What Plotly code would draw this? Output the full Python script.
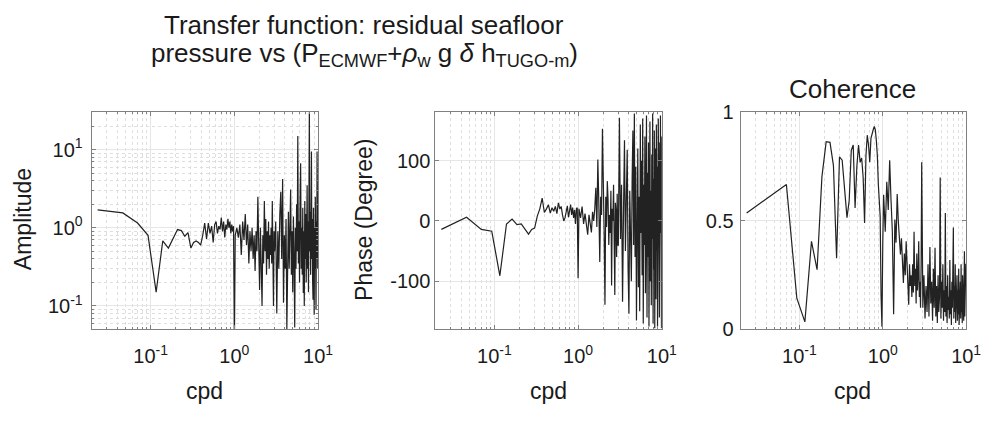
import numpy as np
import plotly.graph_objects as go

# ---------------- data ----------------
df = 1.0 / 43.0  # frequency resolution, cpd

# Amplitude (log scale)
amp_low = [1.7, 1.55, 1.15, 0.8, 0.15, 0.68, 0.55, 0.72, 0.95, 0.92,
           0.78, 0.87, 0.55, 0.65, 0.68, 0.65, 0.6, 0.8, 1.15, 0.72,
           1.15, 0.85, 1.05, 0.65, 1.1, 1.2, 0.85, 1.05, 0.95, 1.35,
           0.9, 1.2, 0.75, 1.1, 0.95, 1.3, 1.0, 1.2, 0.85, 1.1,
           0.9, 1.05, 0.03]
amp_mid = [0.8, 1.0, 0.75, 1.1, 0.45, 1.2, 0.7, 1.5, 0.6, 1.1,
           0.35, 0.9, 0.5, 1.0, 0.4, 0.8, 0.28, 0.9, 0.5, 2.5,
           0.6, 0.16, 1.0, 0.45, 0.1, 0.8, 0.35, 2.2, 0.5, 1.3,
           0.25, 0.9, 0.4, 1.2, 0.3, 0.8, 0.45, 1.0, 0.35, 2.2,
           0.6, 0.1, 0.9]
amp_high = [0.5, 1.2, 0.08, 0.9, 0.3, 1.5, 2.9, 0.4, 4.2, 0.11,
            0.8, 0.3, 1.3, 0.05, 0.7, 1.6, 0.3, 1.1, 3.1, 0.25,
            0.9, 0.15, 1.4, 0.4, 0.053, 1.0, 0.3, 2.0, 0.5, 15,
            0.35, 1.2, 0.2, 2.5, 6.7, 0.3, 1.0, 0.25, 1.8, 0.146,
            0.9, 0.1, 2.2, 0.4, 1.5, 0.2, 0.8, 3.5, 0.3, 1.2,
            0.15, 2.0, 35, 0.5, 1.6, 0.25, 3.0, 9.5, 0.4, 1.3,
            0.2, 0.12, 1.8, 0.5, 0.077, 1.0, 0.3, 2.5, 0.6, 0.09,
            1.2, 0.4, 9.5, 0.8, 0.3, 1.0]

# Phase (degree)
phase_low = [-14, 6, -14, -17, -91, -5, 3, -6, -5, -14,
             -22, -14, -12, 8, 20, 38, 14, 20, 27, 13,
             22, 16, 24, 12, 30, 20, 24, 10, 0, 5,
             19, 25, 6, 18, 27, 10, 22, 5, 18, -5,
             20, 22, -95]
phase_mid = [20, 5, 24, -5, 12, -2, -23, 10, -5, -19,
             15, 0, 20, 55, -10, 102, 30, -68, 40, 10,
             153, 77, -20, -139, 40, -10, 66, 35, -40, 10,
             -20, 50, -107, 20, 0, 60, -10, -123, 30, 15,
             -60, 45, -40]
phase_high = [-40, 171, -30, 60, -134, 20, 134, -50, 30, 118,
              -80, -154, 50, -20, -100, 70, 150, -40, 178, -60,
              90, -165, 10, 120, -110, 40, -150, 160, -20, 100,
              -90, 170, -170, 60, -40, 140, -120, 20, 175, -160,
              80, -60, 130, -175, 30, 165, -100, 50, -140, 110,
              -30, 178, -170, 70, -80, 150, -178, 20, 120, -130,
              160, -50, 90, -175, 40, 170, -120, 60, -160, 130,
              -20, 175, -150, 100, -178, 140]

# Coherence
coh_low = [0.537, 0.62, 0.668, 0.144, 0.035, 0.406, 0.275, 0.703, 0.865, 0.862,
           0.755, 0.328, 0.795, 0.78, 0.62, 0.515, 0.594, 0.825, 0.85, 0.56,
           0.75, 0.85, 0.77, 0.79, 0.70, 0.49, 0.80, 0.895, 0.85, 0.77,
           0.88, 0.91, 0.92, 0.935, 0.92, 0.87, 0.80, 0.67, 0.60, 0.52,
           0.157, 0.013, 0.40]
coh_mid = [0.62, 0.45, 0.68, 0.55, 0.78, 0.594, 0.45, 0.07, 0.507, 0.40,
           0.624, 0.50, 0.38, 0.345, 0.42, 0.30, 0.214, 0.35, 0.25, 0.406,
           0.30, 0.22, 0.114, 0.30, 0.20, 0.25, 0.15, 0.30, 0.17, 0.45,
           0.20, 0.28, 0.12, 0.35, 0.18, 0.25, 0.406, 0.15, 0.22, 0.10,
           0.30, 0.77, 0.15]
coh_high = [0.10, 0.25, 0.05, 0.20, 0.08, 0.30, 0.06, 0.38, 0.12, 0.22,
            0.04, 0.28, 0.10, 0.376, 0.06, 0.20, 0.03, 0.25, 0.08, 0.15,
            0.70, 0.05, 0.22, 0.10, 0.30, 0.04, 0.18, 0.08, 0.537, 0.06,
            0.20, 0.03, 0.25, 0.09, 0.15, 0.05, 0.32, 0.07, 0.18, 0.02,
            0.22, 0.10, 0.28, 0.47, 0.05, 0.20, 0.08, 0.30, 0.03, 0.15,
            0.10, 0.25, 0.04, 0.18, 0.07, 0.28, 0.02, 0.15, 0.09, 0.22,
            0.05, 0.30, 0.08, 0.18, 0.03, 0.25, 0.10, 0.15, 0.04, 0.20,
            0.36, 0.06, 0.22, 0.08, 0.30, 0.30]

x_tickvals = [0.1, 1, 10]
x_ticktext = ["10<sup>-1</sup>", "10<sup>0</sup>", "10<sup>1</sup>"]
amp_tickvals = [0.1, 1, 10]
amp_ticktext = ["10<sup>-1</sup>", "10<sup>0</sup>", "10<sup>1</sup>"]
phase_tickvals = [-100, 0, 100]
phase_ticktext = ["-100", "0", "100"]
coh_tickvals = [0, 0.5, 1]
coh_ticktext = ["0", "0.5", "1"]


def freq_grid(n_low, n_mid, n_high):
    k = list(range(1, n_low + 1))
    k += [44 + 2 * i for i in range(n_mid)]
    k += [130 + 4 * j for j in range(n_high)]
    return [kk * df for kk in k]


f_amp = freq_grid(len(amp_low), len(amp_mid), len(amp_high))
f_phase = freq_grid(len(phase_low), len(phase_mid), len(phase_high))
f_coh = freq_grid(len(coh_low), len(coh_mid), len(coh_high))

# ---------------- figure ----------------
W, H = 991, 421
FONT = "Liberation Sans, Arial, Helvetica, sans-serif"
TXT = "#1a1a1a"
LINE = "#222222"
GRID = "#e6e6e6"
MGRID = "#dedede"
FRAME = "#808080"
TICK_FS = 20
LABEL_FS = 23
TITLE_FS = 26


def px(x):
    return x / W


def py(y):
    return 1 - y / H


fig = go.Figure()
fig.add_trace(go.Scatter(x=f_amp, y=amp_low + amp_mid + amp_high, mode="lines",
                         line=dict(color=LINE, width=1.2), xaxis="x", yaxis="y"))
fig.add_trace(go.Scatter(x=f_phase, y=phase_low + phase_mid + phase_high, mode="lines",
                         line=dict(color=LINE, width=1.2), xaxis="x2", yaxis="y2"))
fig.add_trace(go.Scatter(x=f_coh, y=coh_low + coh_mid + coh_high, mode="lines",
                         line=dict(color=LINE, width=1.2), xaxis="x3", yaxis="y3"))

minor_log = [m * 10.0 ** e for e in (-2, -1, 0) for m in range(2, 10)]
minor_amp = [m * 10.0 ** e for e in (-2, -1, 0, 1) for m in range(2, 10)]

xr = [np.log10(0.0197), 1.0]
ytop, ybot = 107, 336
ydom = [py(ybot), py(ytop)]


def xaxis(dom, anchor):
    return dict(type="log", range=xr, domain=dom, anchor=anchor,
                tickmode="array", tickvals=x_tickvals, ticktext=x_ticktext,
                ticks="inside", ticklen=4, tickcolor=FRAME,
                showline=True, linecolor=FRAME, linewidth=1, mirror="ticks",
                showgrid=True, gridcolor=GRID, gridwidth=1, zeroline=False,
                minor=dict(tickmode="array", tickvals=minor_log, ticks="inside",
                           ticklen=2, tickcolor=FRAME, showgrid=True,
                           gridcolor=MGRID, griddash="dot", gridwidth=1),
                tickfont=dict(family=FONT, size=TICK_FS, color=TXT),
                ticklabelstandoff=9)


def yaxis(anchor, **kw):
    d = dict(domain=ydom, anchor=anchor, ticks="inside", ticklen=4, tickcolor=FRAME,
             showline=True, linecolor=FRAME, linewidth=1, mirror="ticks",
             showgrid=True, gridcolor=GRID, gridwidth=1, zeroline=False,
             tickfont=dict(family=FONT, size=TICK_FS, color=TXT))
    d.update(kw)
    return d


fig.update_layout(
    width=W, height=H, margin=dict(l=0, r=0, t=0, b=0),
    paper_bgcolor="white", plot_bgcolor="white", showlegend=False,
    xaxis=xaxis([px(93), px(323)], "y"),
    xaxis2=xaxis([px(442), px(672)], "y2"),
    xaxis3=xaxis([px(752), px(981)], "y3"),
    yaxis=yaxis("x", type="log", range=[np.log10(0.05), np.log10(30)],
                tickmode="array", tickvals=amp_tickvals, ticktext=amp_ticktext,
                ticklabelstandoff=4,
                minor=dict(tickmode="array", tickvals=minor_amp, ticks="inside",
                           ticklen=2, tickcolor=FRAME, showgrid=True,
                           gridcolor=MGRID, griddash="dot", gridwidth=1)),
    yaxis2=yaxis("x2", range=[-180, 180], tickmode="array",
                 tickvals=phase_tickvals, ticktext=phase_ticktext, ticklabelstandoff=0),
    yaxis3=yaxis("x3", range=[0, 1], tickmode="array",
                 tickvals=coh_tickvals, ticktext=coh_ticktext, ticklabelstandoff=2),
)

ann = []


def add_text(text, x, y, size, angle=0):
    ann.append(dict(text=text, x=px(x), y=py(y), xref="paper", yref="paper",
                    xanchor="center", yanchor="middle", showarrow=False,
                    textangle=angle, font=dict(family=FONT, size=size, color=TXT)))


add_text("Transfer function: residual seafloor", 370, 15, TITLE_FS)
add_text("pressure vs (P<sub>ECMWF</sub>+<i>ρ</i><sub>w</sub> g <i>δ</i> h<sub>TUGO-m</sub>)",
         370, 46, TITLE_FS)
add_text("Coherence", 866, 82, TITLE_FS)
add_text("Amplitude", 23, 220, LABEL_FS, -90)
add_text("Phase (Degree)", 369, 220, LABEL_FS, -90)
for cx in (208, 557, 866):
    add_text("cpd", cx, 401, LABEL_FS)

fig.update_layout(annotations=ann)
fig.write_html("out.html")
